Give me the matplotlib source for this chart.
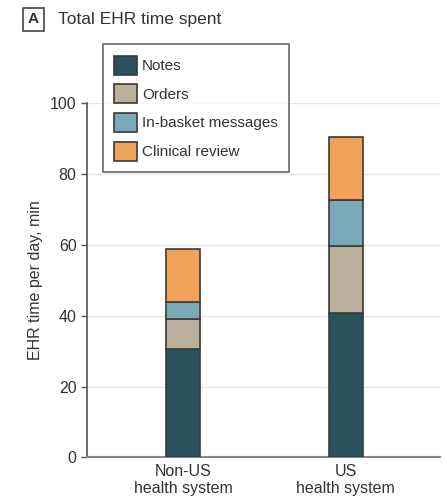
import matplotlib.pyplot as plt
import numpy as np

systems = ["Non-US\nhealth system", "US\nhealth system"]
categories = ["Notes", "Orders", "In-basket messages", "Clinical review"]
notes = [30.7, 40.8]
orders = [8.5, 19.0]
inbasket = [4.7, 12.8]
clinical = [14.9, 17.8]
colors = ["#2b525c", "#b9b19c", "#7aa9b7", "#f2a35a"]

plt.rcParams['font.family'] = ['Liberation Sans', 'DejaVu Sans']
text_col = "#333333"

fig = plt.figure(figsize=(4.47, 5.04), dpi=100)
ax = fig.add_axes([0.1946, 0.0923, 0.7894, 0.7026])

x = np.arange(len(systems))
bottom = np.zeros(len(systems))
for vals, lab, col in zip([notes, orders, inbasket, clinical], categories, colors):
    ax.bar(x, vals, width=0.21, bottom=bottom, color=col, edgecolor="#3a3a3a",
           linewidth=1.2, label=lab, zorder=3)
    bottom += np.array(vals)

ax.set_xlim(-0.589, 1.577)
ax.set_ylim(0, 100)
ax.set_yticks(range(0, 101, 20))
ax.set_xticks(x)
ax.set_xticklabels(systems, fontsize=11.5, color=text_col, linespacing=1.1)
ax.tick_params(axis='y', labelsize=11.5, labelcolor=text_col, length=4, color="#555555", width=1)
ax.tick_params(axis='x', length=0, pad=5)
ax.grid(axis='y', color="#e6e6e6", linewidth=1, zorder=0)
for s in ["top", "right"]:
    ax.spines[s].set_visible(False)
ax.spines["left"].set_color("#555555")
ax.spines["left"].set_linewidth(1.2)
ax.spines["bottom"].set_color("#888888")
ax.spines["bottom"].set_linewidth(1.5)

ax.set_ylabel("EHR time per day, min", fontsize=11.5, color=text_col, labelpad=5)

leg = ax.legend(loc="upper left", bbox_to_anchor=(0.045, 1.167), borderaxespad=0,
                fontsize=11, frameon=True, fancybox=False, handlelength=1.5,
                handleheight=1.55, handletextpad=0.3, labelspacing=0.62,
                borderpad=0.75, labelcolor=text_col)
leg.get_frame().set_edgecolor("#444444")
leg.get_frame().set_linewidth(1.2)

fig.text(0.075, 0.962, "A", fontsize=11, fontweight="bold", color=text_col,
         ha="center", va="center",
         bbox=dict(boxstyle="square,pad=0.3", fc="white", ec="#444444", lw=1.2))
fig.text(0.13, 0.962, "Total EHR time spent", fontsize=12.5, color=text_col,
         ha="left", va="center")

fig.savefig("out.png", dpi=100)
